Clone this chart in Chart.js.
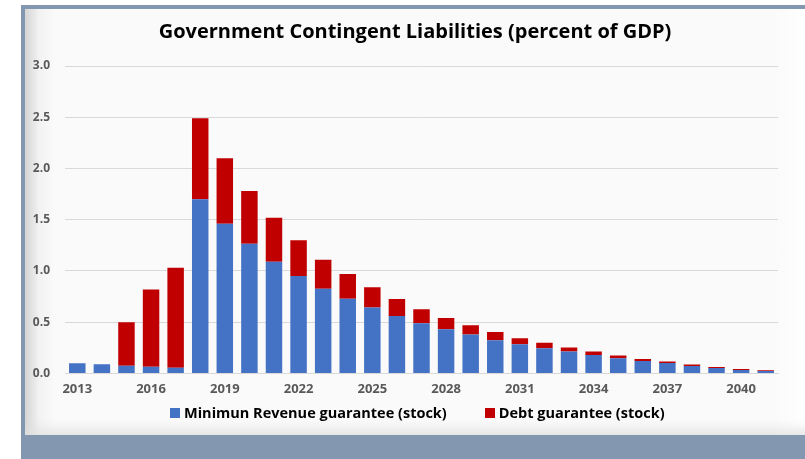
<!DOCTYPE html>
<html lang="en">
<head>
  <meta charset="UTF-8">
  <title>Government Contingent Liabilities</title>
  <script src="https://cdn.jsdelivr.net/npm/chart.js"></script>
  <style>
    body { margin: 0; background: #fff; width: 805px; height: 459px; overflow: hidden; position: relative; font-family: "Open Sans", sans-serif; }
    .frame { position: absolute; left: 21px; top: 5px; width: 784px; height: 454px; background: #8497b0; }
    .panel { position: absolute; left: 25px; top: 9px; width: 780px; height: 426px;
             background: linear-gradient(to right, #d4d4d4 0px, #f2f2f2 14px, #fafafa 30px, #fafafa 96%, #ffffff 100%);
             box-shadow: inset 0 -14px 14px -10px #e0e0e0; }
    canvas { position: absolute; left: 0; top: 0; }
    #legend { position: absolute; left: 170px; top: 403px; display: flex; align-items: center; font-weight: bold; font-size: 14.5px; color: #000; white-space: nowrap; }
    #legend .item { display: flex; align-items: center; margin-right: 38px; }
    #legend .box { width: 10px; height: 10px; margin-right: 4px; }
  </style>
</head>
<body>
  <div class="frame"></div>
  <div class="panel"></div>
  <canvas id="liabChart" width="805" height="459"></canvas>
  <div id="legend"></div>

  <script>
    const years = [2013, 2014, 2015, 2016, 2017, 2018, 2019, 2020, 2021, 2022, 2023, 2024, 2025, 2026, 2027,
                   2028, 2029, 2030, 2031, 2032, 2033, 2034, 2035, 2036, 2037, 2038, 2039, 2040, 2041];
    const minRevenue = [0.10, 0.09, 0.075, 0.065, 0.055, 1.70, 1.46, 1.265, 1.09, 0.95, 0.825, 0.728, 0.642, 0.56, 0.489,
                        0.43, 0.38, 0.324, 0.285, 0.246, 0.213, 0.18, 0.147, 0.121, 0.101, 0.072, 0.052, 0.032, 0.023];
    const debtGuarantee = [0, 0, 0.425, 0.755, 0.975, 0.79, 0.64, 0.515, 0.43, 0.35, 0.285, 0.242, 0.198, 0.165, 0.137,
                           0.11, 0.089, 0.079, 0.059, 0.052, 0.04, 0.033, 0.027, 0.02, 0.014, 0.016, 0.01, 0.01, 0.007];
    const yTicks = [0, 0.5, 1.0, 1.5, 2.0, 2.5, 3.0];

    const font = '"Open Sans", sans-serif';

    const chart = new Chart(document.getElementById('liabChart').getContext('2d'), {
      type: 'bar',
      data: {
        labels: years,
        datasets: [
          { label: 'Minimun Revenue guarantee (stock)', data: minRevenue, backgroundColor: '#4472c4' },
          { label: 'Debt guarantee (stock)', data: debtGuarantee, backgroundColor: '#c00000' }
        ]
      },
      options: {
        responsive: false,
        animation: false,
        barPercentage: 0.67,
        categoryPercentage: 1.0,
        layout: { padding: { left: 25, right: 0, top: 0, bottom: 54 } },
        scales: {
          x: {
            stacked: true,
            grid: { display: false, drawTicks: false },
            border: { color: '#d9d9d9', width: 1 },
            ticks: {
              autoSkip: false, maxRotation: 0, padding: 8,
              color: '#595959', font: { family: font, size: 13, weight: 'bold' },
              callback: (v, i) => i % 3 === 0 ? years[i] : ''
            }
          },
          y: {
            stacked: true,
            min: 0, max: 3.0,
            afterFit: s => { s.width = 40; },
            afterBuildTicks: s => { s.ticks = yTicks.map(v => ({ value: v })); },
            grid: { color: '#d9d9d9', drawTicks: false },
            border: { display: false },
            ticks: {
              padding: 15,
              color: '#595959', font: { family: font, size: 12, weight: 'bold' },
              callback: v => v.toFixed(1)
            }
          },
          // empty right-hand axis, only to keep the right margin inside the layout
          yRight: {
            position: 'right',
            afterFit: s => { s.width = 27; },
            grid: { display: false },
            border: { display: false },
            ticks: { display: false }
          }
        },
        plugins: {
          title: {
            display: true,
            text: 'Government Contingent Liabilities (percent of GDP)',
            color: '#000',
            font: { family: font, size: 20, weight: 'bold' },
            padding: { top: 20, bottom: 22 }
          },
          legend: { display: false },
          tooltip: { enabled: false }
        }
      }
    });

    const legendEl = document.getElementById('legend');
    chart.data.datasets.forEach(ds => {
      const item = document.createElement('span');
      item.className = 'item';
      const box = document.createElement('span');
      box.className = 'box';
      box.style.background = ds.backgroundColor;
      item.appendChild(box);
      item.appendChild(document.createTextNode(ds.label));
      legendEl.appendChild(item);
    });
  </script>
</body>
</html>
